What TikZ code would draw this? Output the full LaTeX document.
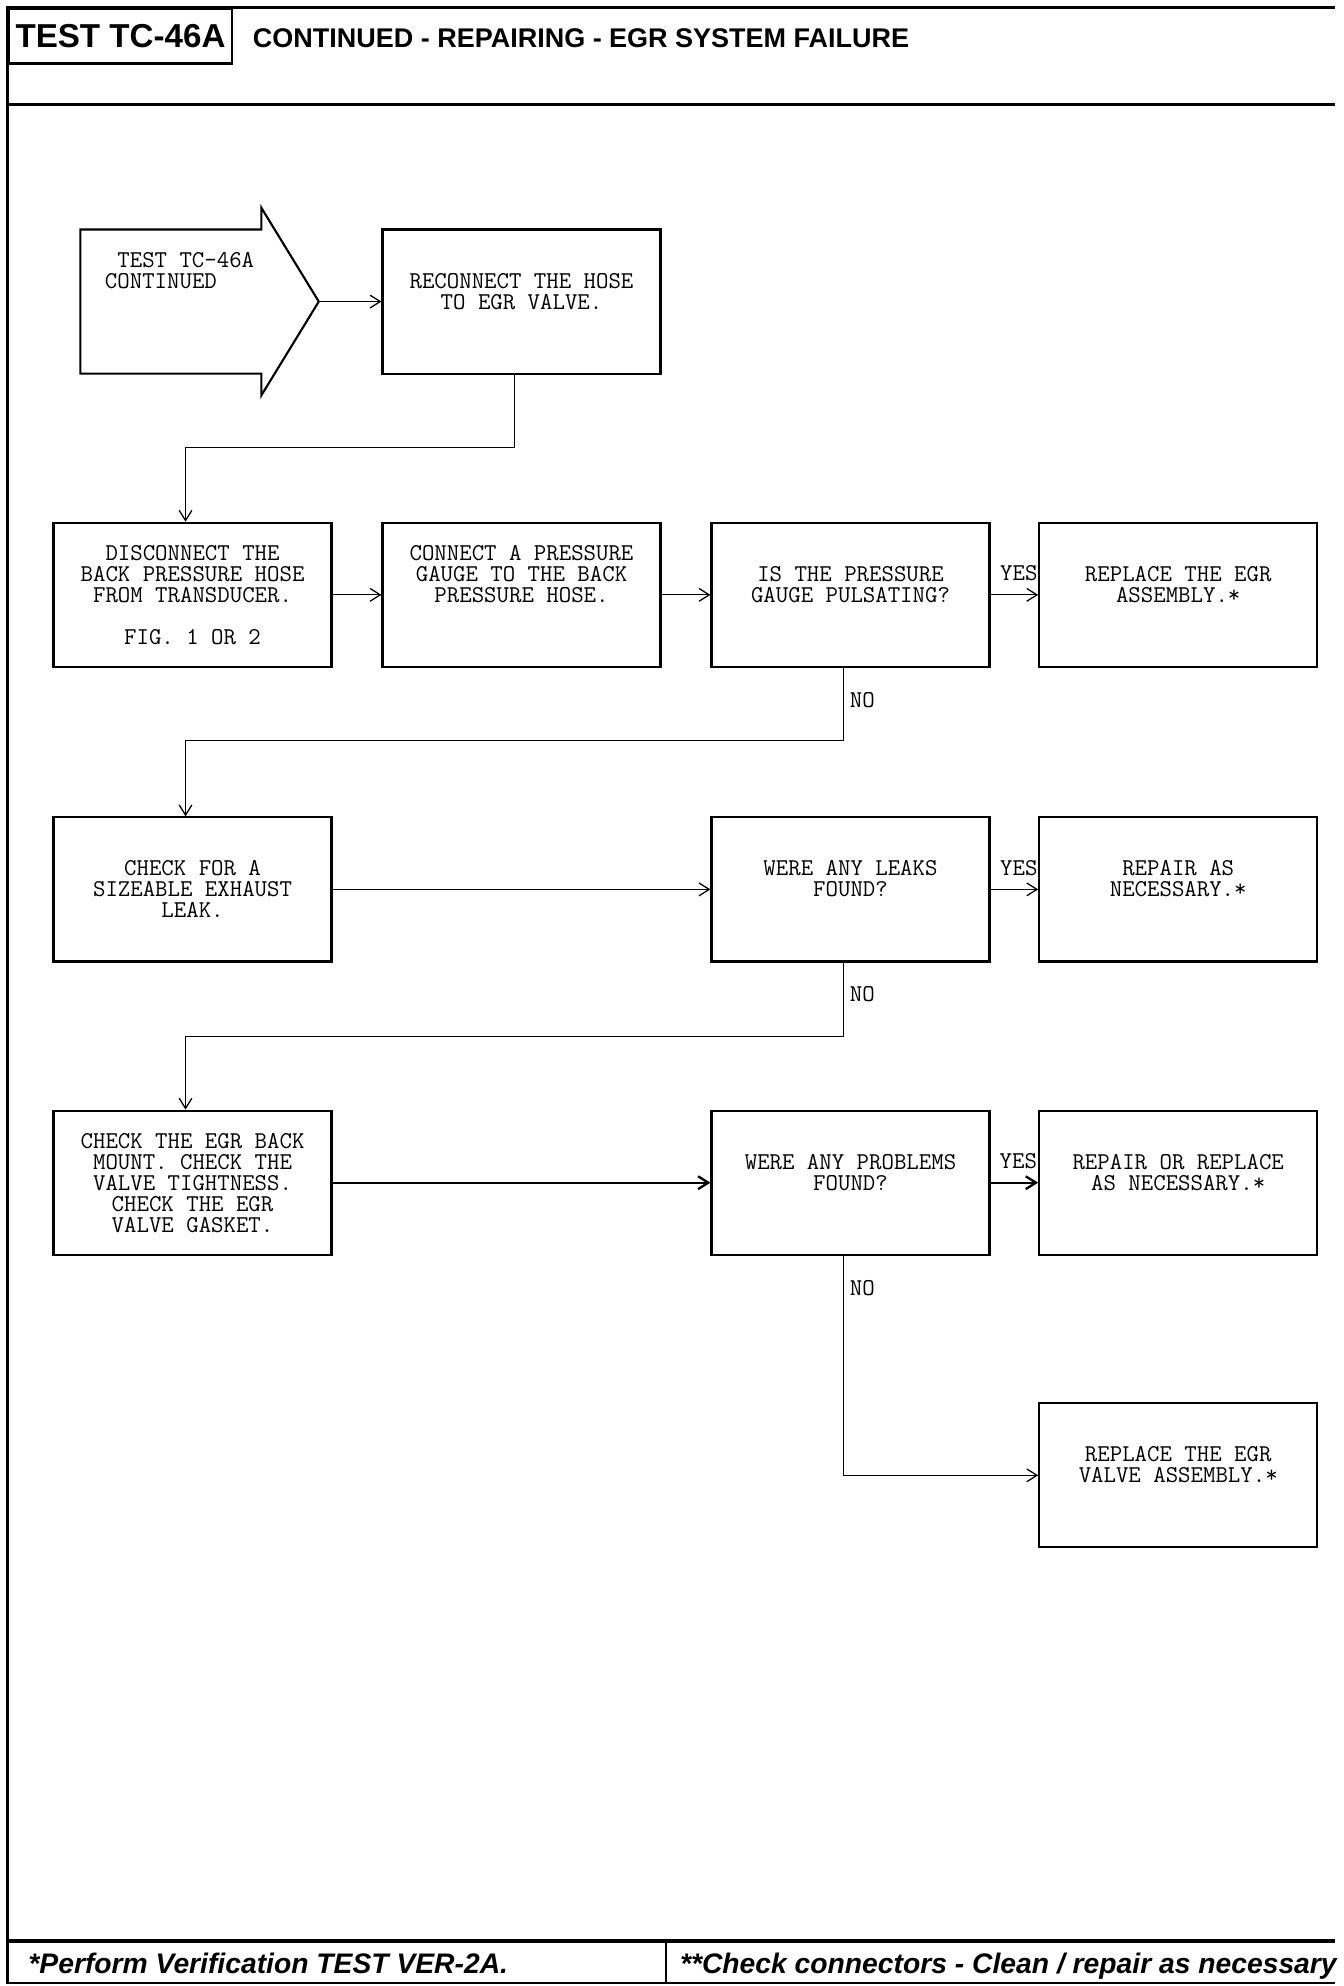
\documentclass[tikz,border=0pt]{standalone}
\usepackage{fontspec}
\newfontfamily\headfont{Liberation Sans}
\usetikzlibrary{positioning,arrows.meta}
\newcommand\boxfont{\fontsize{11.36}{9.9}\selectfont\ttfamily}
\tikzset{
		boxStyle/.style  = {draw, line width=1pt, minimum width=130.8pt, minimum height=67.8pt,
		                    inner sep=0pt, align=center, font=\boxfont},
		flowStyle/.style = {line width=0.6pt, -{Straight Barb[length=4.8pt,width=6pt]}},
		yesLabel/.style  = {pos=1, anchor=base east, inner sep=0pt, yshift=6.6pt, font=\boxfont},
		noLabel/.style   = {anchor=base west, inner sep=0pt, xshift=2.7pt, yshift=-18.5pt, font=\boxfont}
}

\begin{document}
\begin{tikzpicture}[x=0.6pt, y=-0.6pt]
  \clip (0,0) rectangle (1054,1557.5);

  % Page frame and header
  \draw[line width=1.2pt] (1047,6) -- (6,6) -- (6,1555) -- (1047,1555);
  \draw[line width=1.8pt] (6,82) -- (1047,82);
  \draw[line width=1.8pt] (6,1522) -- (1047,1522);
  \draw[line width=1pt] (522,1522) -- (522,1555);
  \node[draw, line width=1.2pt, anchor=north west, minimum width=105pt, minimum height=25.8pt,
        inner sep=0pt, font={\headfont\bfseries\fontsize{15.6}{18}\selectfont}] (testTag) at (6,6) {TEST TC-46A};
  \node[anchor=base west, inner sep=0pt, font={\headfont\bfseries\fontsize{12.7}{15}\selectfont}]
        (title) at (198,37.5) {CONTINUED - REPAIRING - EGR SYSTEM FAILURE};

  % Entry arrow
  \draw[line width=1pt] (63,180) -- (205,180) -- (205,163) -- (250,236.5) -- (205,310) -- (205,293) -- (63,293) -- cycle;
  \coordinate (startTip) at (250,236.5);
  \node[anchor=west, inner sep=0pt, align=left, font=\boxfont] (start) at (82,236.5)
        {\phantom{X}TEST TC-46A\\CONTINUED\\\mbox{}\\\mbox{}\\\mbox{}};

  % Steps
  \node[boxStyle] (reconnect)     at (409,236.5) {RECONNECT THE HOSE\\TO EGR VALVE.\\\mbox{}};
  \node[boxStyle] (disconnect)    at (151,466.5) {DISCONNECT THE\\BACK PRESSURE HOSE\\FROM TRANSDUCER.\\\mbox{}\\FIG. 1 OR 2};
  \node[boxStyle] (gauge)         at (409,466.5) {CONNECT A PRESSURE\\GAUGE TO THE BACK\\PRESSURE HOSE.\\\mbox{}\\\mbox{}};
  \node[boxStyle] (pulsing)       at (667,466.5) {IS THE PRESSURE\\GAUGE PULSATING?\\\mbox{}};
  \node[boxStyle] (replaceEgr)    at (924,466.5) {REPLACE THE EGR\\ASSEMBLY.*\\\mbox{}};
  \node[boxStyle] (exhaust)       at (151,697.5) {CHECK FOR A\\SIZEABLE EXHAUST\\LEAK.};
  \node[boxStyle] (leaks)         at (667,697.5) {WERE ANY LEAKS\\FOUND?\\\mbox{}};
  \node[boxStyle] (repairLeak)    at (924,697.5) {REPAIR AS\\NECESSARY.*\\\mbox{}};
  \node[boxStyle] (mount)         at (151,927.5) {CHECK THE EGR BACK\\MOUNT. CHECK THE\\VALVE TIGHTNESS.\\CHECK THE EGR\\VALVE GASKET.};
  \node[boxStyle] (problems)      at (667,927.5) {WERE ANY PROBLEMS\\FOUND?\\\mbox{}};
  \node[boxStyle] (repairReplace) at (924,927.5) {REPAIR OR REPLACE\\AS NECESSARY.*\\\mbox{}};
  \node[boxStyle] (replaceValve)  at (924,1157)  {REPLACE THE EGR\\VALVE ASSEMBLY.*\\\mbox{}};

  % Connectors
  \draw[flowStyle] (startTip) -- (reconnect.west);
  \draw[flowStyle] ([xshift=-3.3pt]reconnect.south) -- ++(0,57) -| ([xshift=-3.3pt]disconnect.north);
  \draw[flowStyle] (disconnect) -- (gauge);
  \draw[flowStyle] (gauge) -- (pulsing);
  \draw[flowStyle] (pulsing) -- node[yesLabel]{YES} (replaceEgr);
  \draw[flowStyle] ([xshift=-3.3pt]pulsing.south) node[noLabel]{NO} -- ++(0,57) -| ([xshift=-3.3pt]exhaust.north);
  \draw[flowStyle] (exhaust) -- (leaks);
  \draw[flowStyle] (leaks) -- node[yesLabel]{YES} (repairLeak);
  \draw[flowStyle] ([xshift=-3.3pt]leaks.south) node[noLabel]{NO} -- ++(0,58) -| ([xshift=-3.3pt]mount.north);
  \draw[flowStyle, line width=1.1pt] (mount) -- (problems);
  \draw[flowStyle, line width=1.1pt] (problems) -- node[yesLabel]{YES} (repairReplace);
  \draw[flowStyle] ([xshift=-3.3pt]problems.south) node[noLabel]{NO} |- (replaceValve.west);

  % Footer notes
  \node[anchor=base west, inner sep=0pt, font={\headfont\bfseries\itshape\fontsize{13.3}{16}\selectfont}]
        (verifyNote) at (22,1548) {*Perform Verification TEST VER-2A.};
  \node[anchor=base west, inner sep=0pt, font={\headfont\bfseries\itshape\fontsize{13.3}{16}\selectfont}]
        (connNote) at (533,1548) {**Check connectors - Clean / repair as necessary};
\end{tikzpicture}
\end{document}
